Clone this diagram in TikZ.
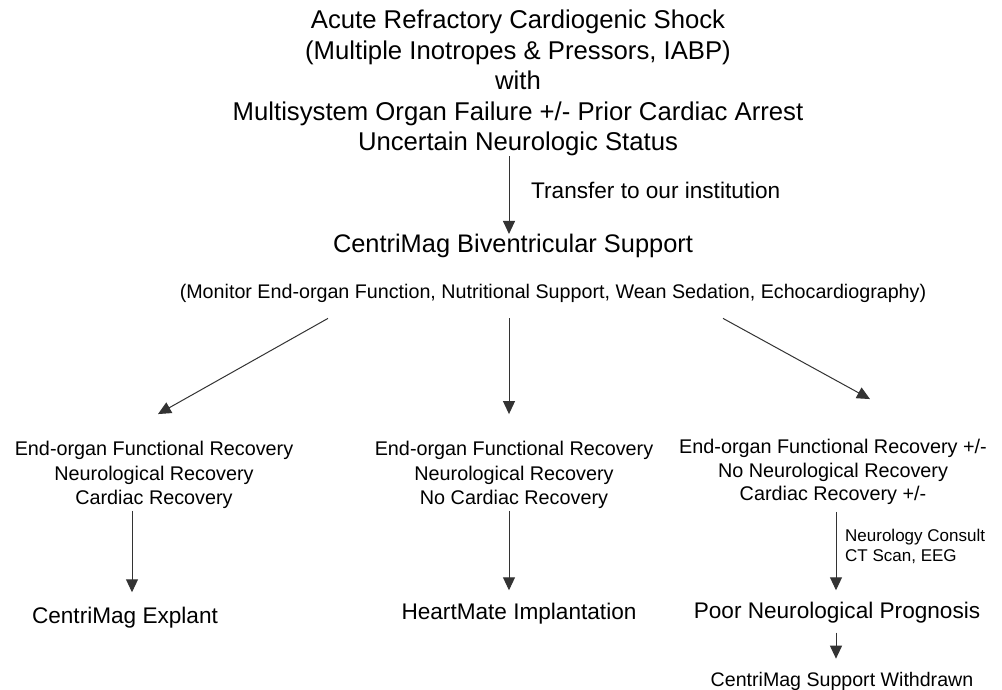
\documentclass[tikz,border=0pt]{standalone}
\usepackage{fontspec}
\setmainfont{Liberation Sans}
\usetikzlibrary{arrows.meta}
\tikzset{
  txt/.style={inner sep=0pt, align=center, text=black},
  arr/.style={draw=black!80, line width=1pt, -{Triangle[length=13pt,width=12pt]}},
}
\newcommand{\fs}[2]{\fontsize{#1}{#2}\selectfont}
\begin{document}
\begin{tikzpicture}[x=1pt,y=-1pt]
\useasboundingbox[fill=white] (0,0) rectangle (1002,690);
% nodes
\node[txt, font=\fs{25.7}{30.5}] (title) at (518,83)
  {Acute Refractory Cardiogenic Shock\\(Multiple Inotropes \& Pressors, IABP)\\with\\Multisystem Organ Failure +/- Prior Cardiac Arrest\\Uncertain Neurologic Status};
\node[txt, font=\fs{22.6}{26}, anchor=west] (transfer) at (531,190) {Transfer to our institution};
\node[txt, font=\fs{25.4}{30}] (cbs) at (513,246) {CentriMag Biventricular Support};
\node[txt, font=\fs{19.7}{24}] (mon) at (553,293) {(Monitor End-organ Function, Nutritional Support, Wean Sedation, Echocardiography)};
\node[txt, font=\fs{19.8}{24.5}] (l1) at (154,475) {End-organ Functional Recovery\\Neurological Recovery\\Cardiac Recovery};
\node[txt, font=\fs{19.8}{24.5}] (m1) at (514,475) {End-organ Functional Recovery\\Neurological Recovery\\No Cardiac Recovery};
\node[txt, font=\fs{19.8}{23.5}] (r1) at (833,472) {End-organ Functional Recovery +/-\\No Neurological Recovery\\Cardiac Recovery +/-};
\node[txt, font=\fs{22.6}{26}] (l2) at (125,618) {CentriMag Explant};
\node[txt, font=\fs{22.6}{26}] (m2) at (519,614) {HeartMate Implantation};
\node[txt, font=\fs{22.6}{26}] (r2) at (837,613) {Poor Neurological Prognosis};
\node[txt, font=\fs{19.6}{24}] (r3) at (842,681) {CentriMag Support Withdrawn};
\node[txt, font=\fs{17}{20}, anchor=west, align=left] (neuro) at (845,546) {Neurology Consult\\CT Scan, EEG};
% x positions for vertical connectors
\coordinate (cx) at (509,0);
\coordinate (lx) at (132,0);
\coordinate (rx) at (836,0);
% connectors
\draw[arr] (title.south -| cx) -- (cbs.north -| cx);
\draw[arr] ([xshift=-225pt,yshift=-16pt]mon.south) -- ([xshift=4pt,yshift=27pt]l1.north);
\draw[arr] ([yshift=-16pt]mon.south -| cx) -- ([yshift=27pt]m1.north -| cx);
\draw[arr] ([xshift=170pt,yshift=-16pt]mon.south) -- ([xshift=37pt,yshift=40pt]r1.north);
\draw[arr, shorten <=2pt, shorten >=15pt] (l1.south -| lx) -- (l2.north -| lx);
\draw[arr, shorten <=2pt, shorten >=13pt] (m1.south -| cx) -- (m2.north -| cx);
\draw[arr, shorten <=7pt, shorten >=12pt] (r1.south -| rx) -- (r2.north -| rx);
\draw[arr, shorten <=9pt, shorten >=13pt] (r2.south -| rx) -- (r3.north -| rx);
\end{tikzpicture}
\end{document}
